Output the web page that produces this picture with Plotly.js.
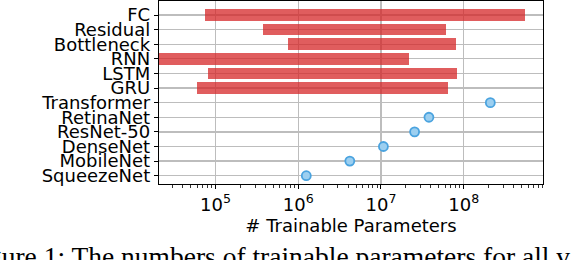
<!DOCTYPE html>
<html>
<head>
<meta charset="utf-8">
<script src="https://cdn.plot.ly/plotly-3.0.1.min.js"></script>
<style>
  html, body { margin: 0; padding: 0; background: #fff; }
  #chart { width: 572px; height: 260px; }
</style>
</head>
<body>
<div id="chart"></div>
<script>
// Categories (top to bottom)
const categories = ["FC", "Residual", "Bottleneck", "RNN", "LSTM", "GRU",
  "Transformer", "RetinaNet", "ResNet-50", "DenseNet", "MobileNet", "SqueezeNet"];

// Range bars: min and max number of trainable parameters
const rangeModels = ["FC", "Residual", "Bottleneck", "RNN", "LSTM", "GRU"];
const rangeMin = [7.4e4, 3.7e5, 7.6e5, 2.07e4, 8.0e4, 6.0e4];
const rangeMax = [5.5e8, 6.1e7, 8.1e7, 2.2e7, 8.4e7, 6.4e7];

// Single-value models
const pointModels = ["Transformer", "RetinaNet", "ResNet-50", "DenseNet", "MobileNet", "SqueezeNet"];
const pointValues = [2.1e8, 3.8e7, 2.55e7, 1.07e7, 4.2e6, 1.25e6];

// X tick labels
const xTickVals = [1e5, 1e6, 1e7, 1e8];
const xTickText = ["10<sup>5</sup>", "10<sup>6</sup>", "10<sup>7</sup>", "10<sup>8</sup>"];

const caption = "Figure 1: The numbers of trainable parameters for all v";

const font = "DejaVu Sans, sans-serif";

const barTrace = {
  type: "bar",
  orientation: "h",
  y: rangeModels,
  base: rangeMin,
  x: rangeMax.map((v, i) => v - rangeMin[i]),
  width: 0.8,
  marker: { color: "rgba(214,39,40,0.75)", line: { width: 0 } },
  hoverinfo: "skip",
  showlegend: false
};

const pointTrace = {
  type: "scatter",
  mode: "markers",
  y: pointModels,
  x: pointValues,
  marker: { symbol: "circle", size: 9, color: "#9ccff0",
            line: { color: "#4aa3df", width: 1.8 } },
  showlegend: false
};

const layout = {
  width: 572, height: 260,
  margin: { l: 159, r: 29, t: 1, b: 76 },
  paper_bgcolor: "#fff", plot_bgcolor: "#fff",
  font: { family: font, size: 18, color: "#000" },
  xaxis: {
    type: "log",
    range: [4.316, 8.959],
    tickmode: "array",
    tickvals: xTickVals,
    ticktext: xTickText,
    ticks: "outside", ticklen: 4, tickwidth: 1, tickcolor: "#000",
    minor: { ticks: "outside", ticklen: 2.5, tickwidth: 0.8, tickcolor: "#000", showgrid: false, dtick: "D1" },
    showgrid: true, gridcolor: "#bdbdbd", gridwidth: 1.3,
    showline: true, mirror: true, linecolor: "#000", linewidth: 1.2,
    zeroline: false,
    tickfont: { family: font, size: 18 },
    title: { text: "# Trainable Parameters", font: { family: font, size: 18 }, standoff: 4 }
  },
  yaxis: {
    type: "category",
    categoryorder: "array",
    categoryarray: categories,
    tickmode: "array",
    tickvals: categories,
    ticktext: categories,
    range: [11.568, -0.958],
    ticks: "outside", ticklen: 4, tickwidth: 1, tickcolor: "#000",
    showgrid: true, gridcolor: "#bdbdbd", gridwidth: 1.3,
    showline: true, mirror: true, linecolor: "#000", linewidth: 1.2,
    zeroline: false,
    tickfont: { family: font, size: 18 }
  },
  annotations: [{
    text: caption,
    xref: "paper", yref: "paper",
    x: (-37 - 159) / 384, y: (184 - 239) / 183,
    xanchor: "left", yanchor: "top",
    showarrow: false,
    font: { family: "Liberation Serif, Times New Roman, serif", size: 27.5, color: "#000" }
  }],
  bargap: 0
};

Plotly.newPlot("chart", [barTrace, pointTrace], layout, { displayModeBar: false, staticPlot: true });
</script>
</body>
</html>
